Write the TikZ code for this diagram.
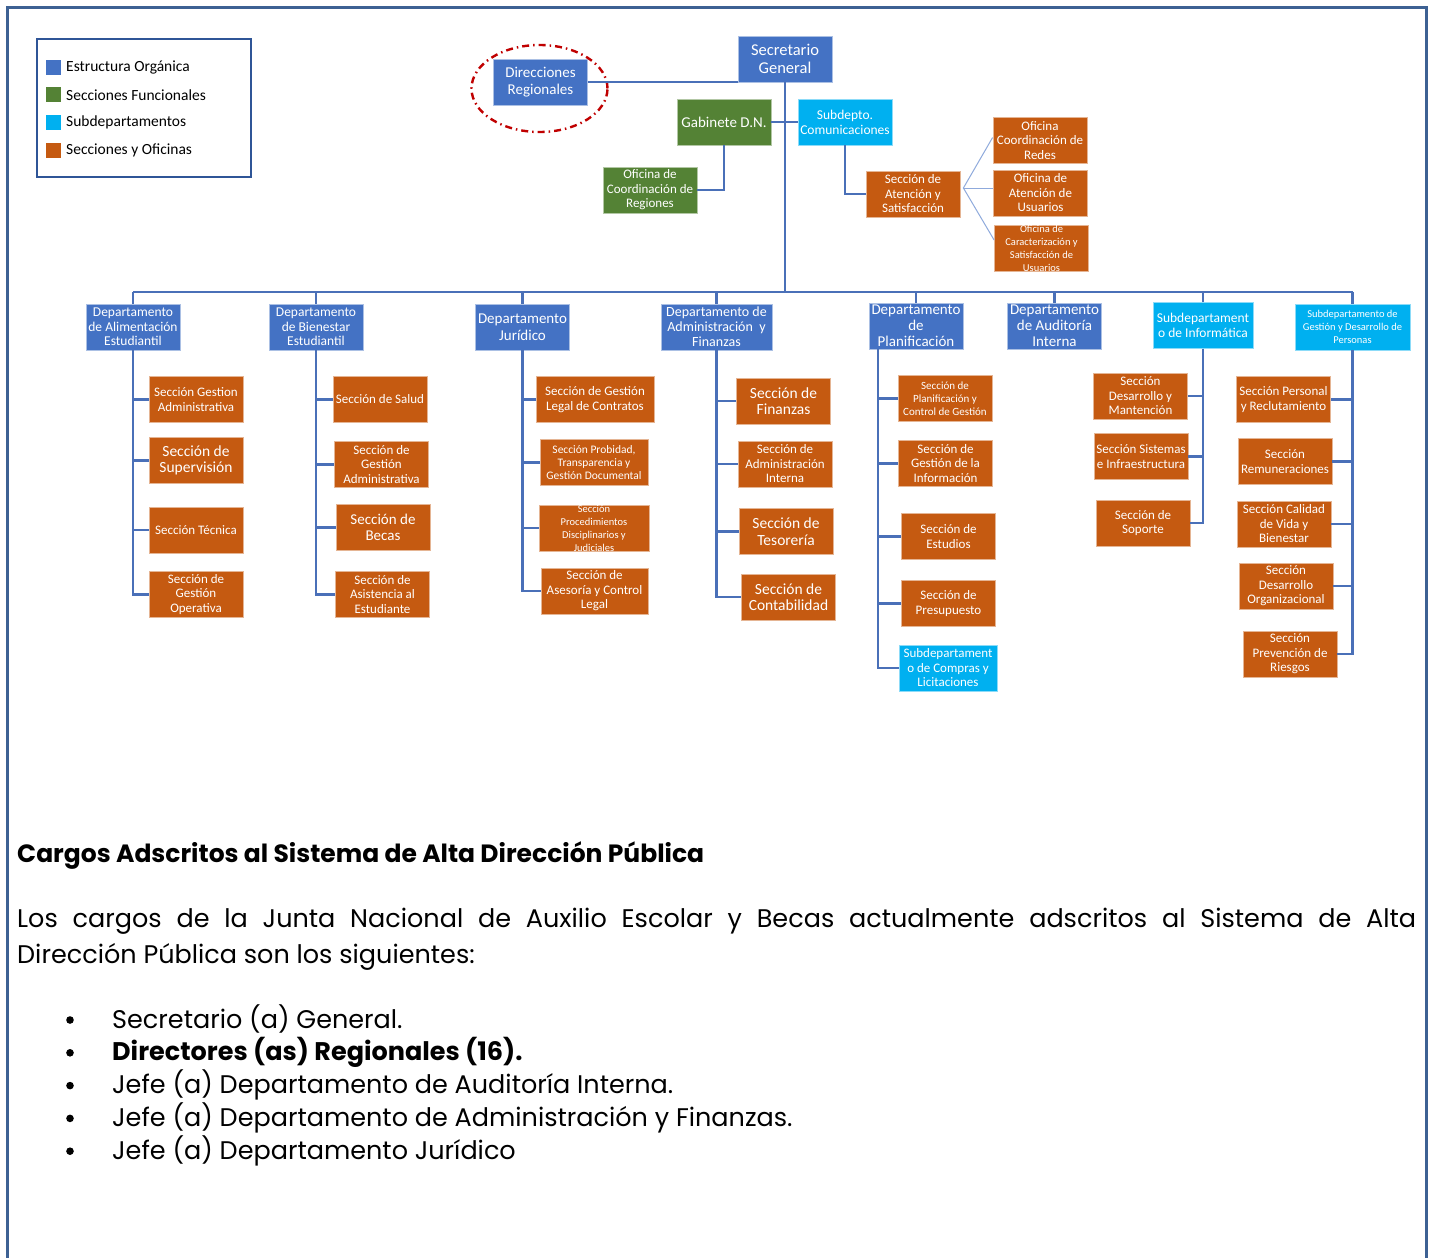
\documentclass[tikz,border=0pt]{standalone}
\usepackage{fontspec}
\setmainfont{Poppins}
\newfontfamily\boxfont{Carlito}

\definecolor{orgblue}{HTML}{4472C4}
\definecolor{funcgreen}{HTML}{548235}
\definecolor{subcyan}{HTML}{00B0F0}
\definecolor{secorange}{HTML}{C55A11}
\definecolor{linkblue}{HTML}{4A70B8}
\definecolor{fanblue}{HTML}{8FAADC}
\definecolor{framecol}{HTML}{3D6193}
\definecolor{keyframe}{HTML}{2F5597}
\definecolor{ringred}{HTML}{C00000}

\begin{document}
\begin{tikzpicture}[x = 1pt, y = -1pt,
	fs/.style 2 args = {font = \boxfont\fontsize{#1}{#2}\selectfont},
	box/.style = {draw = white!55!#1, fill = #1, text = white, line width = 0.8pt,
		align = center, inner sep = 0pt, minimum width = 94pt, minimum height = 46pt,
		fs = {13}{14.5}},
	orgbox/.style = {box = orgblue},
	funcbox/.style = {box = funcgreen},
	subbox/.style = {box = subcyan},
	secbox/.style = {box = secorange},
	link/.style = {draw = linkblue, line width = 2.2pt},
	fan/.style = {draw = fanblue, line width = 1pt},
	keytext/.style = {fs = {15.5}{17}, anchor = west, inner sep = 0pt},
	headtext/.style = {font = \bfseries\fontsize{25}{29}\selectfont, anchor = base west, inner sep = 0pt},
	bodytext/.style = {font = \fontsize{25.5}{30}\selectfont, anchor = base west, inner sep = 0pt}
]

	% Page and frame
	
	\fill [white] (0, 0) rectangle (1430, 1258);
	\useasboundingbox (0, 0) rectangle (1430, 1258);
	\draw [framecol, line width = 3pt] (7, 1258) -- (7, 7) -- (1426, 7) -- (1426, 1258);
	
	% Legend
	
	\draw [keyframe, line width = 1.5pt] (37, 39) rectangle (251, 177);
	\foreach \col/\txt [count = \k] in {orgblue/Estructura Orgánica, funcgreen/Secciones Funcionales, subcyan/Subdepartamentos, secorange/Secciones y Oficinas}
	{
		\fill [\col] (46, {59.5 + (\k - 1) * 27.7}) rectangle ++(15, 15);
		\node [keytext] (key\k) at (66, {67 + (\k - 1) * 27.7}) {\txt};
	}
	
	% Top level
	
	\node [orgbox, fs = {16.5}{18}] (sec) at (785, 59) {Secretario\\General};
	\node [orgbox, fs = {15}{17}] (dir) at (540.5, 82) {Direcciones\\Regionales};
	\draw [ringred, line width = 2.4pt, dash pattern = on 7pt off 4pt on 1.5pt off 4pt] (dir) ++(-1, 6.5) ellipse (68pt and 43.5pt);
	\node [funcbox, fs = {15}{17}] (gab) at (724, 122) {Gabinete D.N.};
	\node [subbox, fs = {13.5}{15}] (com) at (845, 122) {Subdepto.\\Comunicaciones};
	\node [funcbox] (ocr) at (650, 190) {Oficina de\\Coordinación de\\Regiones};
	\node [secbox] (sas) at (913, 194) {Sección de\\Atención y\\Satisfacción};
	\node [secbox] (ofRed) at (1040, 140.5) {Oficina\\Coordinación de\\Redes};
	\node [secbox] (ofAte) at (1040.5, 193) {Oficina de\\Atención de\\Usuarios};
	\node [secbox, fs = {10.5}{13}, inner ysep = -3pt] (ofCar) at (1041.5, 248) {Oficina de\\Caracterización y\\Satisfacción de\\Usuarios};
	
	% Departments
	
	\node [orgbox, fs = {13.5}{14.5}] (dAli) at (133, 327) {Departamento\\de Alimentación\\Estudiantil};
	\node [orgbox, fs = {13.5}{14.5}] (dBie) at (316, 327) {Departamento\\de Bienestar\\Estudiantil};
	\node [orgbox, fs = {15}{16.5}] (dJur) at (522.5, 327) {Departamento\\Jurídico};
	\node [orgbox, fs = {14}{15}, minimum width = 111pt] (dAdm) at (716.5, 327) {Departamento de\\Administración \ y\\Finanzas};
	\node [orgbox, fs = {15}{16}] (dPla) at (916, 326) {Departamento\\de\\Planificación};
	\node [orgbox, fs = {15}{16}] (dAud) at (1054.5, 326) {Departamento\\de Auditoría\\Interna};
	\node [subbox, fs = {13.5}{15}, minimum width = 100pt] (dInf) at (1203, 325.5) {Subdepartament\\o de Informática};
	\node [subbox, fs = {10.5}{13}, minimum width = 115pt] (dPer) at (1352.5, 327) {Subdepartamento de\\Gestión y Desarrollo de\\Personas};
	
	% Sections
	
	\node [secbox] (ali1) at (196, 399.5) {Sección Gestion\\Administrativa};
	\node [secbox, fs = {15.5}{16.5}] (ali2) at (196, 460.5) {Sección de\\Supervisión};
	\node [secbox] (ali3) at (196, 530) {Sección Técnica};
	\node [secbox] (ali4) at (196, 594.5) {Sección de\\Gestión\\Operativa};
	
	\node [secbox] (bie1) at (380, 399.5) {Sección de Salud};
	\node [secbox] (bie2) at (381.5, 464.5) {Sección de\\Gestión\\Administrativa};
	\node [secbox, fs = {15}{16.5}] (bie3) at (383, 527.5) {Sección de\\Becas};
	\node [secbox] (bie4) at (382.5, 594.5) {Sección de\\Asistencia al\\Estudiante};
	
	\node [secbox, minimum width = 118pt] (jur1) at (595, 399.5) {Sección de Gestión\\Legal de Contratos};
	\node [secbox, fs = {11.5}{13}, minimum width = 108pt] (jur2) at (594, 462.5) {Sección Probidad,\\Transparencia y\\Gestión Documental};
	\node [secbox, fs = {10.5}{13}, inner ysep = -3pt, minimum width = 110pt] (jur3) at (594, 528) {Sección\\Procedimientos\\Disciplinarios y\\Judiciales};
	\node [secbox, minimum width = 107pt] (jur4) at (594.5, 591) {Sección de\\Asesoría y Control\\Legal};
	
	\node [secbox, fs = {15.5}{16.5}] (adm1) at (783.5, 401) {Sección de\\Finanzas};
	\node [secbox] (adm2) at (785, 464) {Sección de\\Administración\\Interna};
	\node [secbox, fs = {15.5}{16.5}] (adm3) at (786, 531.5) {Sección de\\Tesorería};
	\node [secbox, fs = {15.5}{16.5}] (adm4) at (788.5, 597) {Sección de\\Contabilidad};
	
	\node [secbox, fs = {11}{13}] (pla1) at (945, 398.5) {Sección de\\Planificación y\\Control de Gestión};
	\node [secbox] (pla2) at (945.5, 463.5) {Sección de\\Gestión de la\\Información};
	\node [secbox] (pla3) at (948.5, 536.5) {Sección de\\Estudios};
	\node [secbox] (pla4) at (948.5, 603.5) {Sección de\\Presupuesto};
	\node [subbox, minimum width = 98pt] (pla5) at (948, 668) {Subdepartament\\o de Compras y\\Licitaciones};
	
	\node [secbox] (inf1) at (1140.5, 396) {Sección\\Desarrollo y\\Mantención};
	\node [secbox] (inf2) at (1141, 456.5) {Sección Sistemas\\e Infraestructura};
	\node [secbox] (inf3) at (1143, 523) {Sección de\\Soporte};
	
	\node [secbox] (per1) at (1283.5, 399.5) {Sección Personal\\y Reclutamiento};
	\node [secbox] (per2) at (1285, 461.5) {Sección\\Remuneraciones};
	\node [secbox] (per3) at (1284, 524) {Sección Calidad\\de Vida y\\Bienestar};
	\node [secbox] (per4) at (1286, 586) {Sección\\Desarrollo\\Organizacional};
	\node [secbox] (per5) at (1290, 654) {Sección\\Prevención de\\Riesgos};
	
	% Links at the top
	
	\coordinate (bus) at (784, 292);
	\coordinate (fanRoot) at ([shift = {(3, -6)}] sas.east);
	\draw [link] (dir.east) -- (dir.east -| sec.west);
	\draw [link] (sec.south) -- (sec.south |- bus);
	\draw [link] (gab.east) -- (com.west);
	\draw [link] (gab.south) |- (ocr.east);
	\draw [link] (com.south) |- (sas.west);
	\draw [fan] (fanRoot) -- ([yshift = 3pt] ofRed.west);
	\draw [fan] (fanRoot) -- ([yshift = 5pt] ofAte.west);
	\draw [fan] (fanRoot) -- ([yshift = 8pt] ofCar.west);
	
	% Bus to the departments
	
	\draw [link] (dAli.north |- bus) -- (dPer.north |- bus);
	\foreach \d in {dAli, dBie, dJur, dAdm, dPla, dAud, dInf, dPer}
		\draw [link] (\d.north) -- (\d.north |- bus);
	
	% Links to the sections
	
	\foreach \s in {ali1, ali2, ali3, ali4}
		\draw [link] (dAli.south) |- (\s.west);
	\foreach \s in {bie1, bie2, bie3, bie4}
		\draw [link] (dBie.south) |- (\s.west);
	\foreach \s in {jur1, jur2, jur3, jur4}
		\draw [link] (dJur.south) |- (\s.west);
	\foreach \s in {adm1, adm2, adm3, adm4}
		\draw [link] (dAdm.south) |- (\s.west);
	\foreach \s in {pla1, pla2, pla3, pla4, pla5}
		\draw [link] ([xshift = 9pt] dPla.south west) |- (\s.west);
	\foreach \s in {inf1, inf2, inf3}
		\draw [link] (dInf.south) |- (\s.east);
	\foreach \s in {per1, per2, per3, per4, per5}
		\draw [link] (dPer.south) |- (\s.east);
	
	% Text below the chart
	
	\node [headtext] (title) at (17, 862) {Cargos Adscritos al Sistema de Alta Dirección Pública};
	\node [bodytext] (intro1) at (17, 927) {\makebox[1399pt][s]{Los cargos de la Junta Nacional de Auxilio Escolar y Becas actualmente adscritos al Sistema de Alta}};
	\node [bodytext] (intro2) at (17, 963) {Dirección Pública son los siguientes:};
	\foreach \txt [count = \k] in {Secretario (a) General., {\bfseries Directores (as) Regionales (16).}, Jefe (a) Departamento de Auditoría Interna., Jefe (a) Departamento de Administración y Finanzas., Jefe (a) Departamento Jurídico}
	{
		\fill (70, {1020 + (\k - 1) * 32.8}) circle (3.8pt);
		\node [bodytext] (cargo\k) at (112, {1028 + (\k - 1) * 32.8}) {\txt};
	}

\end{tikzpicture}
\end{document}
